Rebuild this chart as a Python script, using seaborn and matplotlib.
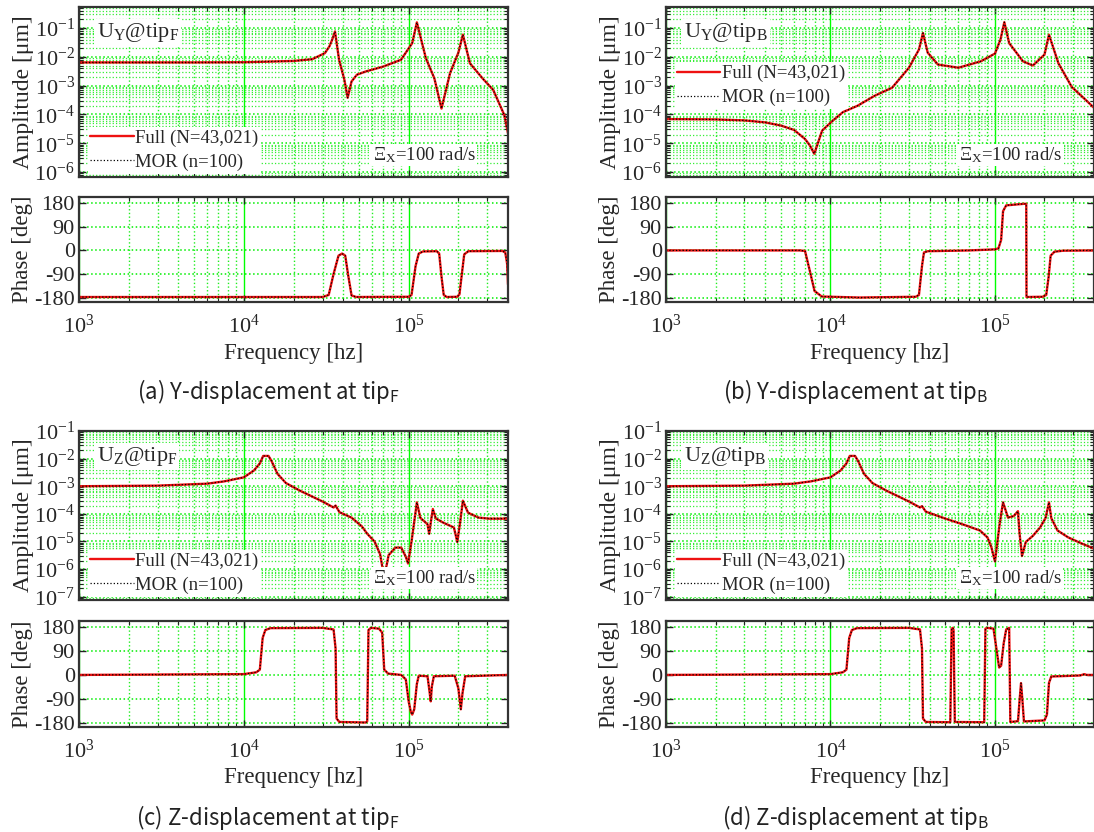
import numpy as np
import matplotlib
matplotlib.use("Agg")
import matplotlib.pyplot as plt
import matplotlib.ticker as mticker
import seaborn as sns

# ---- values ----
# (a) U_Y @ tip_F
fa_amp = [1e3, 5e3, 1e4, 2e4, 2.6e4, 3.1e4, 3.3e4, 3.43e4, 3.57e4, 3.78e4, 4.07e4, 4.26e4,
          4.5e4, 4.85e4, 5.48e4, 7.0e4, 8.97e4, 1.05e5, 1.12e5, 1.27e5, 1.43e5, 1.58e5,
          1.78e5, 2.0e5, 2.13e5, 2.35e5, 2.8e5, 3.25e5, 3.8e5, 4.0e5]
a_amp = [6.4e-3, 6.4e-3, 6.5e-3, 7.2e-3, 8.3e-3, 1.35e-2, 2.3e-2, 3.9e-2, 7.6e-2, 7.9e-3, 1.6e-3, 3.8e-4,
         1.4e-3, 2.4e-3, 3.1e-3, 4.6e-3, 7.9e-3, 3.0e-2, 0.158, 9e-3, 1.8e-3, 1.6e-4,
         2.7e-3, 1.4e-2, 5.9e-2, 6e-3, 1.8e-3, 7.2e-4, 9.5e-5, 2.2e-5]
fa_ph = [1e3, 3.0e4, 3.27e4, 3.5e4, 3.75e4, 3.94e4, 4.12e4, 4.28e4, 4.5e4, 4.8e4, 1.0e5, 1.04e5,
         1.1e5, 1.15e5, 1.22e5, 1.48e5, 1.53e5, 1.58e5, 1.63e5, 1.7e5, 1.97e5, 2.03e5, 2.1e5,
         2.17e5, 2.3e5, 3.7e5, 3.85e5, 3.95e5, 4.0e5]
a_ph = [-178, -178, -170, -90, -20, -12, -20, -90, -172, -178, -177, -170,
        -60, -12, -4, -3, -12, -100, -170, -178, -177, -168, -90,
        -15, -3, -2, -8, -50, -130]

# (b) U_Y @ tip_B
fb_amp = [1e3, 2e3, 3e3, 4e3, 5e3, 6e3, 7e3, 7.5e3, 7.97e3, 8.9e3, 1.03e4, 1.19e4, 1.46e4, 1.85e4,
          2.37e4, 3.0e4, 3.45e4, 3.65e4, 3.9e4, 4.5e4, 6e4, 8.2e4, 1e5, 1.08e5, 1.14e5, 1.22e5,
          1.48e5, 1.7e5, 2.0e5, 2.13e5, 2.43e5, 2.93e5, 3.56e5, 4e5]
b_amp = [6.9e-5, 6.7e-5, 6.2e-5, 5.3e-5, 4.1e-5, 2.9e-5, 1.4e-5, 8.3e-6, 4.3e-6, 2.75e-5, 6e-5, 1.2e-4,
         2e-4, 4.4e-4, 8.5e-4, 4.2e-3, 1.8e-2, 6.7e-2, 1.4e-2, 5.4e-3, 4.2e-3, 7e-3, 1.3e-2, 4e-2,
         0.16, 3e-2, 7e-3, 5e-3, 1.2e-2, 5.9e-2, 6e-3, 9e-4, 3.2e-4, 1.7e-4]
fb_ph = [1e3, 6.5e3, 7.0e3, 7.5e3, 8.0e3, 8.85e3, 1.5e4, 3.3e4, 3.45e4, 3.6e4, 3.7e4, 3.9e4,
         7e4, 1e5, 1.05e5, 1.09e5, 1.12e5, 1.17e5, 1.5e5, 1.55e5, 1.555e5, 1.95e5, 2.05e5,
         2.12e5, 2.18e5, 2.3e5, 2.6e5, 4e5]
b_ph = [0, 0, -2, -80, -155, -176, -180, -177, -170, -60, -8, -3,
        0, 4, 8, 40, 150, 172, 178, 178, -178, -177, -170,
        -100, -20, -5, -1, 0]

# (c) U_Z @ tip_F
fc_amp = [1e3, 3e3, 6e3, 7.6e3, 1e4, 1.15e4, 1.25e4, 1.31e4, 1.41e4, 1.47e4, 1.6e4, 1.8e4, 2.2e4,
          3e4, 3.5e4, 3.6e4, 3.8e4, 4.5e4, 5.2e4, 5.6e4, 6.2e4, 6.7e4, 7.1e4, 7.55e4, 8.3e4, 9e4,
          9.6e4, 9.9e4, 1.04e5, 1.12e5, 1.175e5, 1.3e5, 1.33e5, 1.36e5, 1.4e5, 1.46e5, 1.62e5,
          1.88e5, 1.97e5, 2.05e5, 2.13e5, 2.29e5, 2.65e5, 3.08e5, 4e5]
c_amp = [1e-3, 1.05e-3, 1.24e-3, 1.5e-3, 2.1e-3, 3.7e-3, 6.7e-3, 1.25e-2, 1.25e-2, 8.3e-3, 2.8e-3,
         1.3e-3, 6.8e-4, 2.8e-4, 1.7e-4, 2.0e-4, 1.15e-4, 7.3e-5, 3.5e-5, 1.9e-5, 1.0e-5, 3.5e-6,
         5.0e-7, 3.2e-6, 6e-6, 6e-6, 2.8e-6, 1.6e-6, 1.0e-5, 2.6e-4, 7.2e-5, 4.2e-5, 1.9e-5,
         4.8e-5, 1.5e-4, 6.8e-5, 4.8e-5, 3.2e-5, 9.6e-6, 5e-5, 3e-4, 1.1e-4, 7.3e-5, 6.7e-5, 6.7e-5]
fc_ph = [1e3, 1.0e4, 1.19e4, 1.25e4, 1.3e4, 1.35e4, 1.45e4, 3.0e4, 3.5e4, 3.6e4, 3.65e4, 3.8e4,
         5.5e4, 5.6e4, 5.7e4, 5.9e4, 6.6e4, 6.9e4, 7.1e4, 7.5e4, 9e4, 9.6e4, 1.0e5, 1.03e5,
         1.05e5, 1.08e5, 1.12e5, 1.15e5, 1.3e5, 1.34e5, 1.36e5, 1.38e5, 1.42e5, 1.9e5, 2.0e5,
         2.07e5, 2.12e5, 2.2e5, 4e5]
c_ph = [0, 3, 10, 20, 140, 170, 177, 178, 172, 100, -165, -178,
        -180, -175, 170, 178, 175, 160, 20, 5, 0, -17, -102, -140,
        -150, -130, -34, -3, -5, -68, -100, -45, -5, -3, -51,
        -130, -68, -5, 0]

# (d) U_Z @ tip_B
fd_amp = [1e3, 3e3, 6e3, 7.6e3, 1e4, 1.15e4, 1.25e4, 1.31e4, 1.41e4, 1.47e4, 1.6e4, 1.8e4, 2.2e4,
          3e4, 3.5e4, 3.6e4, 3.8e4, 5e4, 6.35e4, 8.1e4, 9e4, 9.5e4, 1e5, 1.07e5, 1.12e5, 1.2e5,
          1.3e5, 1.38e5, 1.41e5, 1.46e5, 1.54e5, 1.7e5, 1.88e5, 2.03e5, 2.13e5, 2.2e5, 2.4e5,
          2.79e5, 3.39e5, 4e5]
d_amp = [1e-3, 1.05e-3, 1.24e-3, 1.5e-3, 2.1e-3, 3.7e-3, 6.7e-3, 1.25e-2, 1.25e-2, 8.3e-3, 2.8e-3,
         1.3e-3, 6.8e-4, 2.8e-4, 1.7e-4, 1.9e-4, 1.2e-4, 6.7e-5, 4.2e-5, 2.5e-5, 1.4e-5, 6.3e-6,
         1.9e-6, 4.8e-5, 2.6e-4, 7.3e-5, 8.3e-5, 1.25e-4, 2e-5, 3e-6, 9.6e-6, 1.6e-5, 3.2e-5,
         7e-5, 2.6e-4, 7e-5, 2.5e-5, 1.4e-5, 8.3e-6, 5.5e-6]
fd_ph = [1e3, 1e4, 1.19e4, 1.25e4, 1.3e4, 1.35e4, 1.45e4, 3.0e4, 3.5e4, 3.6e4, 3.65e4, 3.8e4,
         5.35e4, 5.45e4, 5.55e4, 5.6e4, 5.7e4, 8.6e4, 8.75e4, 9.0e4, 9.8e4, 1.02e5, 1.06e5,
         1.09e5, 1.13e5, 1.17e5, 1.22e5, 1.24e5, 1.38e5, 1.41e5, 1.44e5, 1.47e5, 1.5e5, 2.0e5,
         2.07e5, 2.13e5, 2.2e5, 3.3e5, 3.5e5, 3.6e5, 4e5]
d_ph = [0, 3, 10, 20, 140, 170, 177, 178, 172, 100, -165, -178,
        -179, 175, 178, 170, -178, -179, 175, 178, 175, 100, 28,
        35, 120, 172, 178, -178, -175, -100, -31, -100, -176, -172,
        -150, -30, -6, -2, 3, 0, 0]

titles = [r"U$_\mathregular{Y}$@tip$_\mathregular{F}$", r"U$_\mathregular{Y}$@tip$_\mathregular{B}$",
          r"U$_\mathregular{Z}$@tip$_\mathregular{F}$", r"U$_\mathregular{Z}$@tip$_\mathregular{B}$"]
captions = [r"(a) Y-displacement at tip$_\mathregular{F}$", r"(b) Y-displacement at tip$_\mathregular{B}$",
            r"(c) Z-displacement at tip$_\mathregular{F}$", r"(d) Z-displacement at tip$_\mathregular{B}$"]
labels = ["Full (N=43,021)", "MOR (n=100)"]
note = r"$\Xi_\mathregular{X}$=100 rad/s"

panels = [(fa_amp, a_amp, fa_ph, a_ph), (fb_amp, b_amp, fb_ph, b_ph),
          (fc_amp, c_amp, fc_ph, c_ph), (fd_amp, d_amp, fd_ph, d_ph)]

# ---- style ----
sns.set_style("ticks")
SERIF = 'Liberation Serif'
plt.rcParams['font.family'] = [SERIF, 'DejaVu Sans']
plt.rcParams['font.serif'] = [SERIF]
plt.rcParams['mathtext.fontset'] = 'custom'
plt.rcParams['mathtext.rm'] = SERIF
plt.rcParams['mathtext.it'] = SERIF
plt.rcParams['axes.unicode_minus'] = False

W, H = 1094, 832
fig = plt.figure(figsize=(W / 100, H / 100), dpi=100)


def box(l, r, t, b):
    return [l / W, 1 - b / H, (r - l) / W, (b - t) / H]


def style_axis(ax):
    ax.set_xscale('log')
    ax.set_xlim(1e3, 4e5)
    ax.xaxis.set_major_locator(mticker.LogLocator(base=10, numticks=20))
    ax.xaxis.set_minor_locator(mticker.LogLocator(base=10, subs=np.arange(2, 10), numticks=20))
    ax.xaxis.set_minor_formatter(mticker.NullFormatter())
    ax.tick_params(which='both', direction='in', top=True, right=True, color='#222222')
    ax.tick_params(which='major', length=5, width=1.0, labelsize=16, pad=3,
                   labelfontfamily=SERIF)
    ax.tick_params(which='minor', length=3, width=0.8)
    ax.tick_params(axis='x', which='major', pad=9)
    for s in ax.spines.values():
        s.set_color('#333333')
        s.set_linewidth(1.6)
    ax.set_axisbelow(True)
    ax.grid(which='major', axis='x', color='#00ff00', ls='-', lw=1.0)
    ax.grid(which='minor', axis='x', color='#22ee22', ls=':', lw=1.0)
    ax.grid(which='major', axis='y', color='#00ee00', ls=':', lw=1.1)


cols = [(79, 508), (666, 1094)]
rows = [((7, 177), (197, 302), 392), ((431, 600), (621, 727), 817)]
leg_y = [0.02, 0.40, 0.02, 0.02]

for i, (f_amp, amp, f_ph, ph) in enumerate(panels):
    l, r = cols[i % 2]
    (at, ab), (pt, pb), cy = rows[i // 2]
    ax1 = fig.add_axes(box(l, r, at, ab))
    ax2 = fig.add_axes(box(l, r, pt, pb))

    # amplitude
    style_axis(ax1)
    ax1.set_yscale('log')
    if i < 2:
        ax1.set_ylim(6.7e-7, 0.54)
    else:
        ax1.set_ylim(7.6e-8, 0.1)
    ax1.yaxis.set_major_locator(mticker.LogLocator(base=10, numticks=20))
    ax1.yaxis.set_minor_locator(mticker.LogLocator(base=10, subs=np.arange(2, 10), numticks=20))
    ax1.yaxis.set_minor_formatter(mticker.NullFormatter())
    ax1.grid(which='minor', axis='y', color='#33ee33', ls=':', lw=0.9)
    sns.lineplot(x=f_amp, y=amp, ax=ax1, color='#ee1111', lw=1.7, estimator=None, sort=False,
                 label=labels[0])
    sns.lineplot(x=f_amp, y=amp, ax=ax1, color='black', lw=0.9, ls=':', estimator=None, sort=False,
                 label=labels[1])
    ax1.set_xlim(1e3, 4e5)
    ax1.tick_params(axis='x', labelbottom=False)
    ax1.set_xlabel('')
    ax1.set_ylabel('Amplitude [μm]', fontsize=17)
    ax1.yaxis.set_label_coords(-0.105, 0.5)
    leg = ax1.legend(loc='lower left', bbox_to_anchor=(0.02, leg_y[i]), fontsize=13.5,
                     handlelength=2.3, handletextpad=0.1, labelspacing=0.35, borderpad=0.15,
                     borderaxespad=0.0, frameon=True, fancybox=False)
    leg.get_frame().set_facecolor('white')
    leg.get_frame().set_edgecolor('none')
    leg.get_frame().set_alpha(1.0)
    ax1.text(0.042, 0.85, titles[i], transform=ax1.transAxes, fontsize=16, va='center', ha='left',
             bbox=dict(facecolor='white', edgecolor='none', pad=1.5))
    ax1.text(0.925, 0.13, note, transform=ax1.transAxes, fontsize=13.5, va='center', ha='right',
             bbox=dict(facecolor='white', edgecolor='none', pad=1.0))

    # phase
    style_axis(ax2)
    ax2.set_ylim(-197, 204)
    ax2.set_yticks([-180, -90, 0, 90, 180])
    sns.lineplot(x=f_ph, y=ph, ax=ax2, color='#ee1111', lw=1.7, estimator=None, sort=False)
    sns.lineplot(x=f_ph, y=ph, ax=ax2, color='black', lw=0.9, ls=':', estimator=None, sort=False)
    ax2.set_xlim(1e3, 4e5)
    ax2.set_ylabel('Phase [deg]', fontsize=16.5)
    ax2.yaxis.set_label_coords(-0.107, 0.5)
    ax2.set_xlabel('Frequency [hz]', fontsize=16.5)
    ax2.xaxis.set_label_coords(0.5, -(cy - 39 - pb) / (pb - pt))
    ax2.xaxis.label.set_va('center')

    cx = [268, 856][i % 2]
    fig.text(cx / W, 1 - cy / H, captions[i], ha='center', va='center', fontsize=16,
             family=['Noto Sans CJK KR', 'DejaVu Sans'], color='#222222')

fig.savefig('out.png', dpi=100)
